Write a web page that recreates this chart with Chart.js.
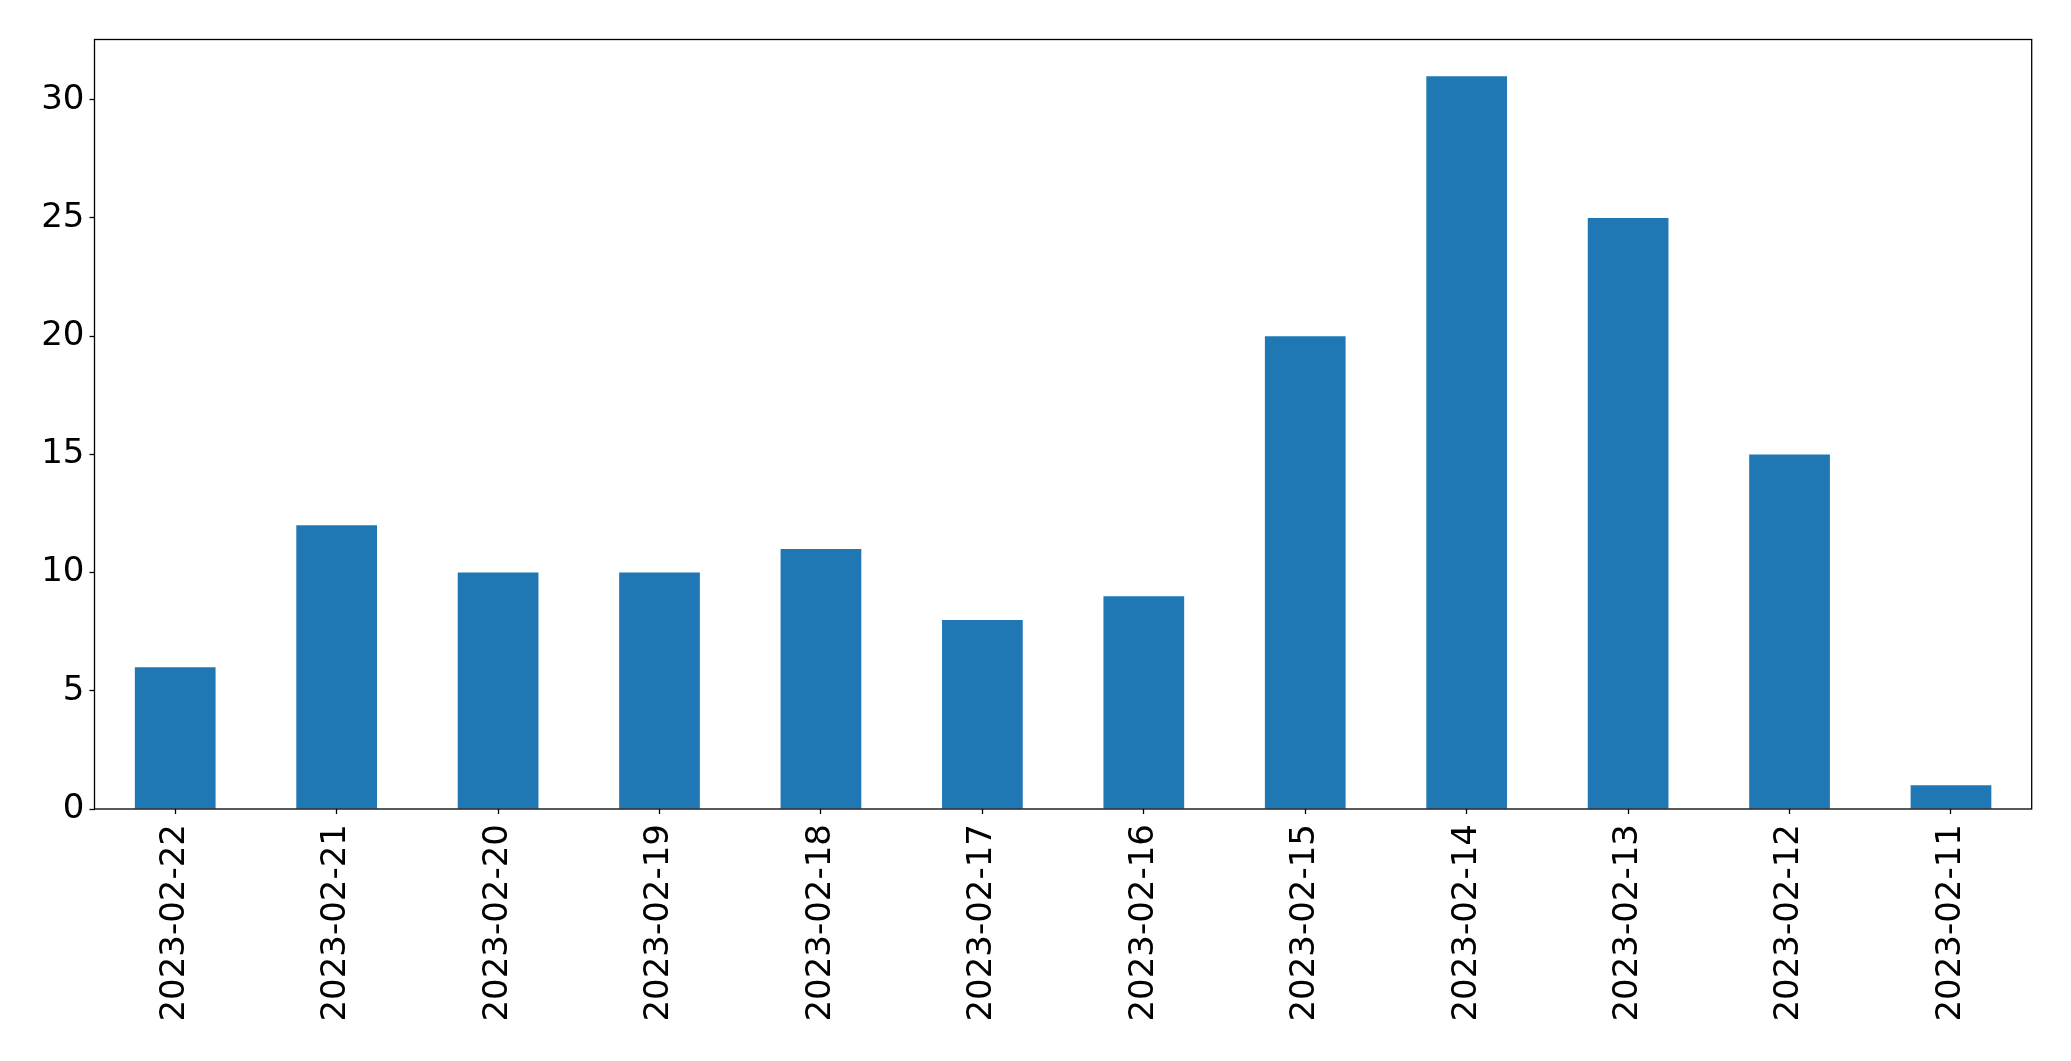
<!DOCTYPE html>
<html>
<head>
<meta charset="utf-8">
<script src="https://cdn.jsdelivr.net/npm/chart.js@4"></script>
<style>
html,body{margin:0;padding:0;background:#fff;}
canvas{display:block;}
</style>
</head>
<body>
<canvas id="c" width="2071" height="1061"></canvas>
<script>
const categories = ["2023-02-22","2023-02-21","2023-02-20","2023-02-19","2023-02-18","2023-02-17","2023-02-16","2023-02-15","2023-02-14","2023-02-13","2023-02-12","2023-02-11"];
const counts = [6,12,10,10,11,8,9,20,31,25,15,1];
const yTicks = [0,5,10,15,20,25,30];

const frame = {
  id: 'frame',
  afterDraw(chart) {
    const a = chart.chartArea, ctx = chart.ctx;
    ctx.save();
    ctx.strokeStyle = '#000';
    ctx.lineWidth = 1.3;
    ctx.strokeRect(a.left, a.top, a.right - a.left, a.bottom - a.top);
    ctx.restore();
  }
};

const font = {family: 'DejaVu Sans', size: 34};
new Chart(document.getElementById('c'), {
  type: 'bar',
  data: {
    labels: categories,
    datasets: [{data: counts, backgroundColor: '#1f77b4', categoryPercentage: 1.0, barPercentage: 0.5}]
  },
  options: {
    responsive: false,
    animation: false,
    layout: {padding: {top: 39.5, right: 39.3, left: 0, bottom: 0}},
    plugins: {legend: {display: false}, tooltip: {enabled: false}},
    scales: {
      x: {
        grid: {offset: false, drawOnChartArea: false, drawTicks: true, tickLength: 5, tickColor: '#000', tickWidth: 1.3},
        border: {display: false},
        ticks: {color: '#000', font: font, minRotation: 90, maxRotation: 90, padding: 10, autoSkip: false},
        afterFit(s) { s.height = 1061 - 809; }
      },
      y: {
        min: 0, max: 32.55,
        grid: {drawOnChartArea: false, drawTicks: true, tickLength: 5, tickColor: '#000', tickWidth: 1.3},
        border: {display: false},
        ticks: {color: '#000', font: font, stepSize: 5, includeBounds: false, padding: 5},
        afterBuildTicks(s) { s.ticks = yTicks.map(v => ({value: v})); },
        afterFit(s) { s.width = 94.5; }
      }
    }
  },
  plugins: [frame]
});
</script>
</body>
</html>
